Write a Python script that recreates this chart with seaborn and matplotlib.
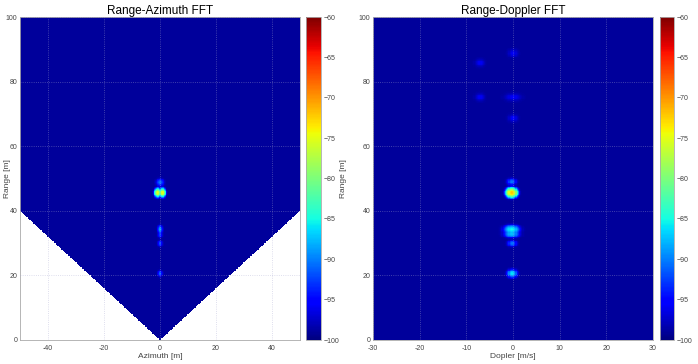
import numpy as np
import matplotlib
matplotlib.use("Agg")
import matplotlib.pyplot as plt
import seaborn as sns

# ---------------- data ----------------
background_db = -99.0
cbar_ticks = [-100, -95, -90, -85, -80, -75, -70, -65, -60]

# Range-Azimuth targets
az_x = [-0.9, 0.9, 0.0, 0.0, 0.0, 0.0, 0.0]
az_r = [45.6, 45.6, 48.8, 34.3, 32.5, 29.9, 20.6]
az_db = [-75.0, -75.0, -91.0, -89.0, -94.0, -93.0, -92.0]
az_sx = [0.45, 0.45, 0.7, 0.45, 0.45, 0.45, 0.45]
az_sr = [0.55, 0.55, 0.6, 0.6, 0.5, 0.5, 0.5]

# Range-Doppler targets
dop_v = [-0.3, -0.3, -0.3, -0.3, -0.2, -0.2, 0.0, -7.1, -7.1, 0.0, 0.0]
dop_r = [45.6, 49.0, 34.3, 32.7, 29.9, 20.6, 88.8, 85.8, 75.2, 75.2, 68.7]
dop_db = [-72.0, -91.0, -85.0, -88.0, -91.0, -86.0, -98.4, -98.6, -98.6, -98.5, -98.0]
dop_sv = [0.5, 0.5, 0.8, 0.8, 0.5, 0.5, 0.6, 0.6, 0.6, 1.0, 0.6]
dop_sr = [0.6, 0.55, 0.6, 0.5, 0.5, 0.6, 0.7, 0.7, 0.7, 0.7, 0.7]

az_xticks = [-40, -20, 0, 20, 40]
dop_xticks = [-30, -20, -10, 0, 10, 20, 30]
range_ticks = [0, 20, 40, 60, 80, 100]


def render(xc, rc, db, sx, sr, xgrid, rgrid):
    X, R = np.meshgrid(xgrid, rgrid)
    p = np.full(X.shape, 10 ** (background_db / 10))
    for x0, r0, d, s1, s2 in zip(xc, rc, db, sx, sr):
        p += 10 ** (d / 10) * np.exp(-((X - x0) ** 2 / (2 * s1 ** 2) + (R - r0) ** 2 / (2 * s2 ** 2)))
    return X, R, 10 * np.log10(p)


sns.set_style("white")
plt.rcParams['font.family'] = ['Liberation Sans', 'DejaVu Sans']

W, H = 698, 364
fig = plt.figure(figsize=(W / 100, H / 100), dpi=100)


def fr(x0, y0, x1, y1):
    return [x0 / W, (H - y1) / H, (x1 - x0) / W, (y1 - y0) / H]


ax1 = fig.add_axes(fr(20, 17, 300, 340))
cax1 = fig.add_axes(fr(306, 17, 321, 340))
ax2 = fig.add_axes(fr(373, 17, 653, 340))
cax2 = fig.add_axes(fr(660, 17, 674, 340))

# ---- left panel grid ----
dx, dr = 0.25, 0.25
xg = np.arange(-50 + dx / 2, 50, dx)
rg = np.arange(100 - dr / 2, 0, -dr)  # top row = range 100
X1, R1, Z1 = render(az_x, az_r, az_db, az_sx, az_sr, xg, rg)
mask1 = R1 < 0.8 * np.abs(X1)

# ---- right panel grid ----
dv = 0.25
vg = np.arange(-30 + dv / 2, 30, dv)
X2, R2, Z2 = render(dop_v, dop_r, dop_db, dop_sv, dop_sr, vg, rg)

txt = '#444444'
for ax, cax, Z, mask, xmin, step, xticks, title, xlabel, ylx in [
    (ax1, cax1, Z1, mask1, -50, dx, az_xticks, 'Range-Azimuth FFT', 'Azimuth [m]', -0.032),
    (ax2, cax2, Z2, None, -30, dv, dop_xticks, 'Range-Doppler FFT', 'Dopler [m/s]', -0.093),
]:
    sns.heatmap(Z, mask=mask, cmap='jet', vmin=-100, vmax=-60, ax=ax, cbar_ax=cax,
                xticklabels=False, yticklabels=False, rasterized=True)
    ax.set_xticks([(t - xmin) / step for t in xticks])
    ax.set_xticklabels([str(t) for t in xticks])
    ax.set_yticks([(100 - t) / dr for t in range_ticks])
    ax.set_yticklabels([str(t) for t in range_ticks])
    ax.tick_params(axis='y', labelsize=5, colors=txt, length=0, pad=2)
    ax.tick_params(axis='x', labelsize=5, colors=txt, length=0, pad=3.5)
    plt.setp(ax.get_yticklabels(), rotation=0)
    plt.setp(ax.get_xticklabels(), rotation=0)
    ax.set_axisbelow(False)
    ax.grid(True, color='#a8a8d0', linestyle=':', linewidth=0.6, alpha=0.5)
    for s in ax.spines.values():
        s.set_visible(True)
        s.set_color('#aaaaaa')
        s.set_linewidth(0.6)
    ax.set_title(title, fontsize=8.5, pad=2, color='black')
    ax.set_xlabel(xlabel, fontsize=6, labelpad=0.5, color=txt)
    ax.set_ylabel('Range [m]', fontsize=6, color=txt)
    ax.yaxis.set_label_coords(ylx, 0.5)

    cb = ax.collections[0].colorbar
    cb.set_ticks(cbar_ticks)
    cax.tick_params(labelsize=5, colors=txt, length=0, pad=2)
    cb.outline.set_visible(True)
    cb.outline.set_edgecolor('#aaaaaa')
    cb.outline.set_linewidth(0.6)

fig.savefig('out.png', dpi=100)
